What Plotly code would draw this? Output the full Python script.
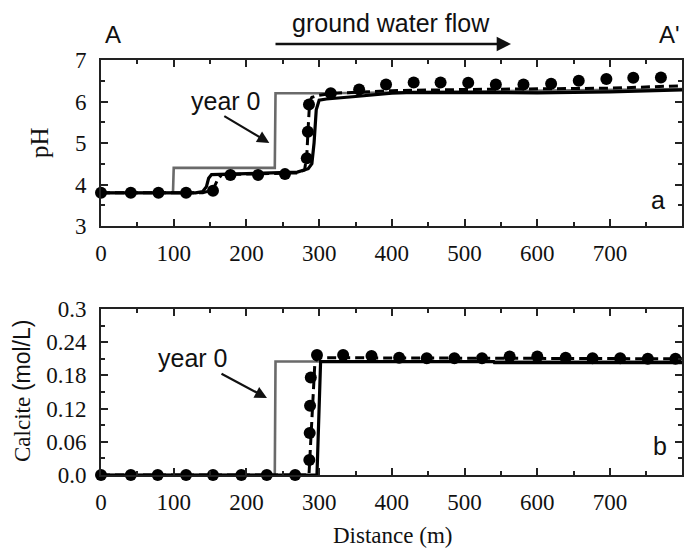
import plotly.graph_objects as go

W, H = 686, 549

# ---------------- data: panel a (pH) ----------------
y0_ph_x = [0, 99, 100, 239, 240, 310, 800]
y0_ph_y = [3.8, 3.8, 4.4, 4.4, 6.2, 6.2, 6.3]

sol_ph_x = [0, 130, 140, 145, 148, 152, 200, 270, 285, 290, 293, 296, 300, 310, 350, 400, 430, 500, 600, 700, 800]
sol_ph_y = [3.8, 3.8, 3.83, 3.95, 4.15, 4.24, 4.26, 4.3, 4.38, 4.5, 5.0, 5.8, 6.03, 6.06, 6.12, 6.2, 6.22, 6.22, 6.21, 6.23, 6.28]

dash_ph_x = [0, 140, 150, 156, 160, 166, 200, 270, 280, 283, 285, 287, 290, 300, 320, 400, 500, 600, 700, 800]
dash_ph_y = [3.8, 3.8, 3.85, 3.95, 4.1, 4.24, 4.25, 4.28, 4.35, 4.7, 5.4, 6.0, 6.1, 6.15, 6.2, 6.26, 6.29, 6.3, 6.32, 6.38]

dot_ph_x = [0, 41, 79, 117, 154, 178, 216, 253, 283, 284.5, 286, 316, 355, 392, 430, 467, 505, 543, 581, 619, 657, 695, 732, 770]
dot_ph_y = [3.8, 3.8, 3.8, 3.8, 3.85, 4.23, 4.23, 4.25, 4.63, 5.27, 5.93, 6.2, 6.29, 6.41, 6.46, 6.46, 6.45, 6.41, 6.41, 6.43, 6.5, 6.54, 6.57, 6.58]

# ---------------- data: panel b (calcite) ----------------
y0_cal_x = [0, 239, 240, 800]
y0_cal_y = [0.0, 0.0, 0.205, 0.205]

sol_cal_x = [0, 297, 302, 540, 541, 800]
sol_cal_y = [0.0, 0.0, 0.205, 0.205, 0.203, 0.203]

dash_cal_x = [0, 286, 290, 294, 297, 800]
dash_cal_y = [0.0, 0.0, 0.1, 0.2, 0.212, 0.21]

dot_cal_x = [0, 41, 78, 117, 154, 193, 228, 267, 286.5, 287, 287.5, 288.5, 297, 333, 372, 410, 448, 486, 524, 562, 600, 639, 676, 714, 752, 790]
dot_cal_y = [0, 0, 0, 0, 0, 0, 0, 0, 0.027, 0.076, 0.125, 0.176, 0.217, 0.217, 0.215, 0.212, 0.211, 0.211, 0.211, 0.214, 0.214, 0.212, 0.211, 0.211, 0.21, 0.21]

x_ticks = [0, 100, 200, 300, 400, 500, 600, 700]
ph_ticks = [3, 4, 5, 6, 7]
cal_ticks = [0.0, 0.06, 0.12, 0.18, 0.24, 0.3]
cal_tick_text = ["0.0", "0.06", "0.12", "0.18", "0.24", "0.3"]

GRAY = "#6a6a6a"
BLACK = "#000000"


def px(xp):
    return xp / W


def py(yp):
    return 1 - yp / H


fig = go.Figure()

for (xa, ya, xs, ys, xd, yd, xso, yso, xdot, ydot) in [
    ("x", "y", y0_ph_x, y0_ph_y, dash_ph_x, dash_ph_y, sol_ph_x, sol_ph_y, dot_ph_x, dot_ph_y),
    ("x2", "y2", y0_cal_x, y0_cal_y, dash_cal_x, dash_cal_y, sol_cal_x, sol_cal_y, dot_cal_x, dot_cal_y),
]:
    fig.add_trace(go.Scatter(x=xs, y=ys, mode="lines", xaxis=xa, yaxis=ya,
                             line=dict(color=GRAY, width=2.6), showlegend=False))
    fig.add_trace(go.Scatter(x=xd, y=yd, mode="lines", xaxis=xa, yaxis=ya,
                             line=dict(color=BLACK, width=3, dash="9px,5px"), showlegend=False))
    fig.add_trace(go.Scatter(x=xso, y=yso, mode="lines", xaxis=xa, yaxis=ya,
                             line=dict(color=BLACK, width=3.2), showlegend=False))
    fig.add_trace(go.Scatter(x=xdot, y=ydot, mode="markers", xaxis=xa, yaxis=ya, cliponaxis=False,
                             marker=dict(color=BLACK, size=12), showlegend=False))

tickfont = dict(family="Liberation Serif, serif", size=23, color="#111")
common_axis = dict(showline=True, linecolor="#222", linewidth=1.8, mirror="ticks",
                   ticks="inside", ticklen=7, tickwidth=1.5, tickcolor="#222",
                   showgrid=False, zeroline=False, tickfont=tickfont, automargin=False)

xdom = [px(101), px(682)]
fig.update_layout(
    width=W, height=H,
    margin=dict(l=0, r=0, t=0, b=0, pad=0, autoexpand=False),
    plot_bgcolor="white", paper_bgcolor="white",
    xaxis=dict(domain=xdom, anchor="y", range=[0, 799], tickvals=x_ticks,
               minor=dict(dtick=50, tick0=0, ticks="inside", ticklen=4, tickcolor="#222"),
               ticklabelstandoff=5, **common_axis),
    yaxis=dict(domain=[py(226), py(60)], anchor="x", range=[3, 7], tickvals=ph_ticks,
               minor=dict(dtick=0.5, tick0=3, ticks="inside", ticklen=4, tickcolor="#222"),
               ticklabelstandoff=8, **common_axis),
    xaxis2=dict(domain=xdom, anchor="y2", range=[0, 799], tickvals=x_ticks,
                minor=dict(dtick=50, tick0=0, ticks="inside", ticklen=4, tickcolor="#222"),
                ticklabelstandoff=5, **common_axis),
    yaxis2=dict(domain=[py(475), py(309)], anchor="x2", range=[0, 0.3], tickvals=cal_ticks,
                ticktext=cal_tick_text,
                minor=dict(dtick=0.03, tick0=0, ticks="inside", ticklen=4, tickcolor="#222"),
                ticklabelstandoff=8, **common_axis),
)

sans = "Liberation Sans, Arial, sans-serif"
serif = "Liberation Serif, serif"
C = dict(xref="paper", yref="paper", showarrow=False, xanchor="center", yanchor="middle")
ann = []
# header
ann.append(dict(text="A", x=px(113), y=py(34), font=dict(family=sans, size=24, color="#111"), **C))
ann.append(dict(text="A'", x=px(669), y=py(34), font=dict(family=sans, size=24, color="#111"), **C))
ann.append(dict(text="ground water flow", x=px(391), y=py(23), font=dict(family=sans, size=25, color="#111"), **C))
ann.append(dict(text="", x=px(511), y=py(44), xref="paper", yref="paper", showarrow=True,
                ax=-237, ay=0, axref="pixel", ayref="pixel", arrowhead=2, arrowsize=1.1,
                arrowwidth=2.6, arrowcolor="#111"))
# year 0 labels
ann.append(dict(text="year 0", x=px(225), y=py(101), font=dict(family=sans, size=25, color="#111"), **C))
ann.append(dict(text="", x=231.5, y=5.0, xref="x", yref="y", ax=167.5, ay=5.67, axref="x", ayref="y",
                showarrow=True, arrowhead=2, arrowsize=1.1, arrowwidth=2.2, arrowcolor="#111"))
ann.append(dict(text="year 0", x=px(192), y=py(358), font=dict(family=sans, size=25, color="#111"), **C))
ann.append(dict(text="", x=px(267), y=py(398), xref="paper", yref="paper", ax=-47, ay=-25,
                axref="pixel", ayref="pixel",
                showarrow=True, arrowhead=2, arrowsize=1.1, arrowwidth=2.2, arrowcolor="#111"))
# panel letters
ann.append(dict(text="a", x=px(658), y=py(200), font=dict(family=sans, size=25, color="#111"), **C))
ann.append(dict(text="b", x=px(660), y=py(446), font=dict(family=sans, size=25, color="#111"), **C))
# axis titles
ann.append(dict(text="pH", x=px(40), y=py(143), textangle=-90,
                font=dict(family=serif, size=25, color="#111"), **C))
ann.append(dict(text="Calcite <span style='font-family:Liberation Sans, Arial, sans-serif'>(mol/L)</span>",
                x=px(22), y=py(391), textangle=-90, font=dict(family=serif, size=23, color="#111"), **C))
ann.append(dict(text="Distance (m)", x=px(392), y=py(535), font=dict(family=serif, size=23, color="#111"), **C))
fig.update_layout(annotations=ann)

fig.write_html("out.html")
